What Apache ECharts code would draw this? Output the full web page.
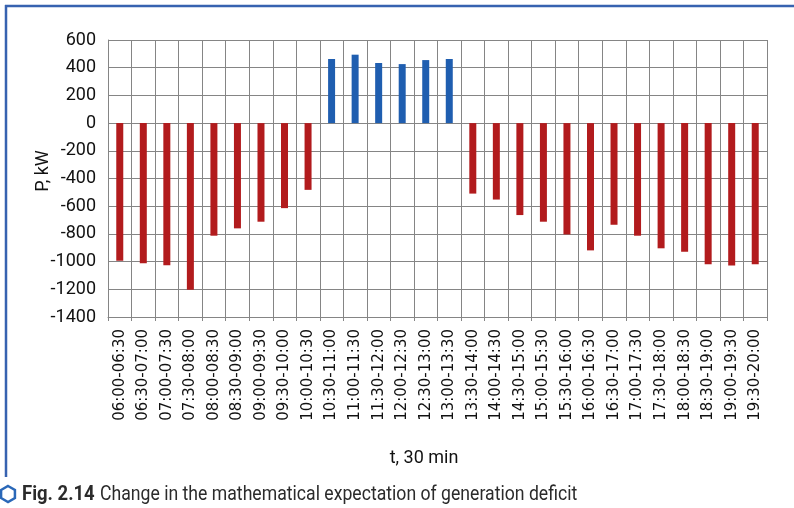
<!DOCTYPE html>
<html>
<head>
<meta charset="utf-8">
<script src="https://cdn.jsdelivr.net/npm/echarts@6/dist/echarts.min.js"></script>
<style>
html,body{margin:0;padding:0;background:#fff;}
#chart{width:794px;height:508px;}
</style>
</head>
<body>
<div id="chart"></div>
<script>
const categories = [
  "06:00-06:30","06:30-07:00","07:00-07:30","07:30-08:00","08:00-08:30","08:30-09:00",
  "09:00-09:30","09:30-10:00","10:00-10:30","10:30-11:00","11:00-11:30","11:30-12:00",
  "12:00-12:30","12:30-13:00","13:00-13:30","13:30-14:00","14:00-14:30","14:30-15:00",
  "15:00-15:30","15:30-16:00","16:00-16:30","16:30-17:00","17:00-17:30","17:30-18:00",
  "18:00-18:30","18:30-19:00","19:00-19:30","19:30-20:00"
];
const deficitValues = [
  -993, -1012, -1026, -1204, -813, -760, -712, -614, -482,
  463, 494, 434, 426, 455, 463,
  -509, -552, -664, -712, -804, -919, -734, -813, -904, -928, -1019, -1029, -1019
];
const yTicks = { min: -1400, max: 600, interval: 200 };
const yAxisTitle = "P, kW";
const xAxisTitle = "t, 30 min";
const captionBold = "Fig. 2.14";
const captionText = "Change in the mathematical expectation of generation deficit";

const RED = "#b21b1d", BLUE = "#1f5eb0", FRAME = "#3762b0", GRIDC = "#858585";

const chart = echarts.init(document.getElementById('chart'), null, {renderer: 'canvas'});

const hx = 8, hy = 494, hr = 8;
const hexPts = [];
for (let i = 0; i < 6; i++) {
  const a = Math.PI / 180 * (60 * i - 90);
  hexPts.push([hx + hr * Math.cos(a), hy + hr * Math.sin(a)]);
}

chart.setOption({
  animation: false,
  backgroundColor: '#fff',
  grid: { left: 108, right: 27, top: 40, bottom: 191, containLabel: false },
  xAxis: {
    type: 'category',
    data: categories,
    boundaryGap: true,
    axisLine: { show: true, onZero: false, lineStyle: { color: GRIDC, width: 1 } },
    axisTick: { show: true, length: 4, lineStyle: { color: GRIDC } },
    splitLine: { show: true, lineStyle: { color: GRIDC, width: 1 } },
    axisLabel: {
      interval: 0, rotate: 90, margin: 12,
      fontFamily: 'DejaVu Sans', fontSize: 15, color: '#111'
    }
  },
  yAxis: {
    type: 'value',
    min: yTicks.min, max: yTicks.max, interval: yTicks.interval,
    axisLine: { show: true, lineStyle: { color: GRIDC, width: 1 } },
    axisTick: { show: false },
    splitLine: { show: true, lineStyle: { color: GRIDC, width: 1 } },
    axisLabel: {
      margin: 12, fontFamily: 'Roboto', fontSize: 18, color: '#111',
      formatter: function (v) { return String(v); }
    }
  },
  series: [{
    type: 'bar',
    data: deficitValues,
    barWidth: 7,
    itemStyle: {
      color: function (p) { return p.value >= 0 ? BLUE : RED; }
    }
  }],
  graphic: [
    { type: 'line', shape: { x1: 5, y1: 6, x2: 794, y2: 6 }, style: { stroke: FRAME, lineWidth: 2.5 } },
    { type: 'line', shape: { x1: 6, y1: 5, x2: 6, y2: 477 }, style: { stroke: FRAME, lineWidth: 2.5 } },
    { type: 'text', x: 43, y: 171, rotation: Math.PI / 2,
      style: { text: yAxisTitle, fontFamily: 'Roboto', fontSize: 18, fill: '#111', align: 'center', verticalAlign: 'middle' } },
    { type: 'text', x: 424, y: 458,
      style: { text: xAxisTitle, fontFamily: 'Roboto', fontSize: 18, fill: '#111', align: 'center', verticalAlign: 'middle' } },
    { type: 'polygon', shape: { points: hexPts }, style: { fill: '#fff', stroke: '#2a68b8', lineWidth: 2.5 } },
    { type: 'text', x: 22, y: 495, scaleX: 0.88, scaleY: 1,
      style: { text: captionBold, fontFamily: 'Roboto', fontWeight: 'bold', fontSize: 21, fill: '#2b2b2b', align: 'left', verticalAlign: 'middle' } },
    { type: 'text', x: 100, y: 495, scaleX: 0.84, scaleY: 1,
      style: { text: captionText, fontFamily: 'Roboto', fontSize: 21, fill: '#2b2b2b', align: 'left', verticalAlign: 'middle' } }
  ]
});
</script>
</body>
</html>
